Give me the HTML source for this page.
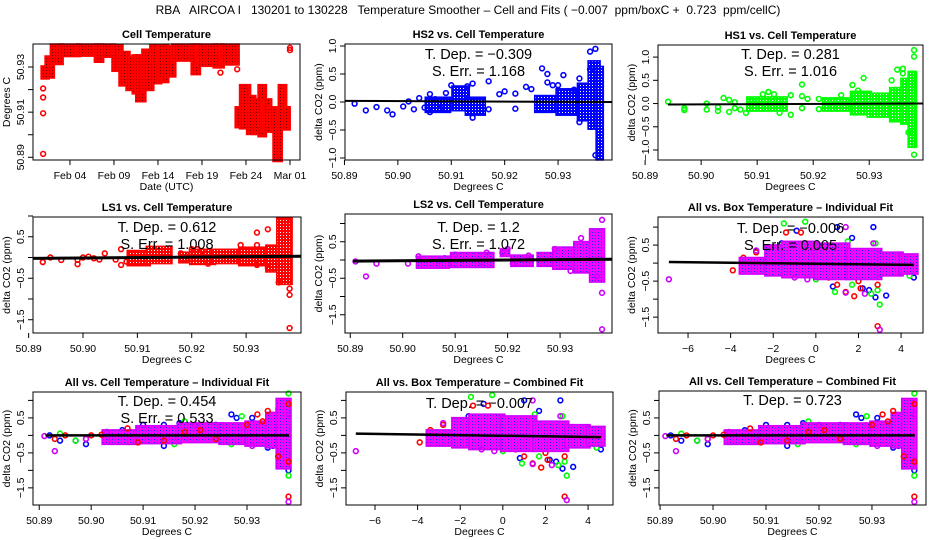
<!DOCTYPE html>
<html><head><meta charset="utf-8"><style>
html,body{margin:0;padding:0;background:#fff;}
svg{display:block;font-family:"Liberation Sans",sans-serif;}
#main-title{white-space:pre;}
</style></head><body>
<svg id="chart" width="936" height="540" viewBox="0 0 936 540" xmlns="http://www.w3.org/2000/svg">
<defs>
<pattern id="pat-red" width="3" height="3" patternUnits="userSpaceOnUse"><rect width="3" height="3" fill="#ff0000"/><rect x="1" y="1" width="1" height="1" fill="#700"/></pattern>
<pattern id="pat-red4" width="3" height="3" patternUnits="userSpaceOnUse"><rect width="3" height="3" fill="#ff0000"/><rect x="1" y="1" width="1" height="1" fill="#fff"/></pattern>
<pattern id="pat-blue" width="3" height="3" patternUnits="userSpaceOnUse"><rect width="3" height="3" fill="#0000ff"/><rect x="1" y="1" width="1" height="1" fill="#fff"/></pattern>
<pattern id="pat-green" width="3" height="3" patternUnits="userSpaceOnUse"><rect width="3" height="3" fill="#00ff00"/><rect x="1" y="1" width="1" height="1" fill="#fff"/></pattern>
<pattern id="pat-purple" width="3" height="3" patternUnits="userSpaceOnUse"><rect width="3" height="3" fill="#ff00ff"/><rect x="1" y="1" width="1" height="1" fill="#2020ff"/><rect x="0" y="2" width="1" height="1" fill="#8040ff"/></pattern>
</defs>
<text id="main-title" x="468" y="14" font-size="12" text-anchor="middle" xml:space="preserve">RBA   AIRCOA I   130201 to 130228   Temperature Smoother – Cell and Fits ( −0.007  ppm/boxC +  0.723  ppm/cellC)</text>
</svg>
<script>
// ---------- Panel 1: cell temperature time series ----------
const p1ColT0=[0.95,1.4,2.0,3.0,5.0,7.0,7.6,9.0,9.8,10.6,11.3,11.7,12.4,13.3,14.2,15.0,15.8,18.0,18.6,20.5,21.3,23.0,23.5,24.3,24.9,25.6,26.1,26.7,27.3,27.9,28.4];
const p1ColT1=[1.4,2.0,3.0,5.0,7.0,7.6,9.0,9.8,10.6,11.3,11.7,12.4,13.3,14.2,15.0,15.8,18.0,18.6,20.5,21.3,23.0,23.5,24.3,24.9,25.6,26.1,26.7,27.3,27.9,28.4,28.8];
const p1ColLo=[50.9256,50.926,50.932,50.9355,50.9357,50.933,50.9352,50.929,50.9225,50.9205,50.919,50.9155,50.9205,50.9235,50.924,50.9265,50.9335,50.9275,50.9312,50.9305,50.9318,50.904,50.9035,50.901,50.901,50.900,50.902,50.905,50.889,50.9035,50.903];
const p1ColHi=[50.9296,50.934,50.9393,50.9393,50.9393,50.9393,50.9393,50.939,50.936,50.934,50.9345,50.9345,50.937,50.939,50.939,50.9385,50.9393,50.9393,50.9393,50.9393,50.9393,50.9115,50.9213,50.9165,50.915,50.9213,50.915,50.9115,50.906,50.9213,50.9115];
const p1PtT=[0.95,0.95,0.95,0.95,12.0,14.0,21.1,23.0,29.0,29.0];
const p1PtV=[50.9205,50.9165,50.9095,50.8915,50.919,50.925,50.9275,50.929,50.9385,50.9375];

// ---------- Panel 2: HS2 (blue) ----------
const p2PtX=[50.8919,50.894,50.896,50.898,50.899,50.901,50.902,50.903,50.904,50.905,50.906,50.906,50.907,50.908,50.909,50.910,50.913,50.914,50.914,50.917,50.917,50.919,50.920,50.922,50.922,50.924,50.925,50.927,50.928,50.928,50.929,50.930,50.931,50.933,50.934,50.934,50.936,50.936,50.937,50.937];
const p2PtY=[-0.03,-0.15,-0.09,-0.15,-0.22,-0.08,0.01,-0.13,0.07,-0.1,0.14,-0.18,0.05,-0.12,0.16,0.3,0.28,0.33,-0.28,0.37,-0.13,0.14,0.19,0.15,-0.12,0.27,0.23,0.6,0.5,0.35,0.3,0.3,0.48,0.22,0.42,-0.36,0.58,0.9,0.95,-0.95];
const p2ColX0=[50.9055,50.9105,50.9130,50.9260,50.9300,50.9340,50.9360,50.9375];
const p2ColX1=[50.9095,50.9130,50.9160,50.9300,50.9340,50.9360,50.9375,50.9381];
const p2ColLo=[-0.15,-0.12,-0.2,-0.15,-0.2,-0.3,-0.45,-1.0];
const p2ColHi=[0.05,0.25,0.05,0.08,0.2,0.3,0.7,0.6];
const p2FitY=[0.02,0.0];

// ---------- Panel 3: HS1 (green) ----------
const p3PtX=[50.8941,50.897,50.897,50.901,50.901,50.903,50.903,50.904,50.905,50.905,50.906,50.906,50.907,50.908,50.909,50.911,50.912,50.913,50.914,50.916,50.916,50.918,50.918,50.918,50.919,50.921,50.921,50.925,50.927,50.929,50.928,50.935,50.936,50.936,50.938,50.938,50.938,50.937,50.934];
const p3PtY=[0.04,-0.1,-0.14,-0.13,0.0,-0.08,-0.16,0.12,0.08,-0.18,0.03,-0.1,-0.13,-0.2,0.08,0.2,0.25,0.2,-0.2,0.18,-0.24,0.41,0.16,-0.1,0.1,0.1,-0.12,0.18,0.4,0.55,0.28,0.73,0.75,0.65,1.15,1.01,-1.1,-0.62,0.5];
const p3ColX0=[50.9085,50.9220,50.9270,50.9300,50.9340,50.9360,50.9373];
const p3ColX1=[50.9150,50.9260,50.9300,50.9340,50.9360,50.9373,50.9381];
const p3ColLo=[-0.12,-0.12,-0.2,-0.25,-0.35,-0.4,-0.9];
const p3ColHi=[0.1,0.08,0.22,0.18,0.3,0.5,0.65];
const p3FitY=[-0.02,0.0];

// ---------- Panel 4: LS1 (red) ----------
const p4PtX=[50.8926,50.894,50.896,50.899,50.899,50.900,50.901,50.902,50.903,50.904,50.906,50.907,50.907,50.908,50.918,50.920,50.921,50.922,50.923,50.929,50.932,50.932,50.932,50.934,50.934,50.936,50.938,50.938,50.938,50.938];
const p4PtY=[-0.11,0.0,-0.06,-0.06,-0.16,0.0,0.02,-0.02,-0.05,0.1,-0.05,0.2,-0.18,-0.1,0.1,0.2,0.2,0.15,-0.15,0.3,0.6,0.3,-0.18,0.68,-0.25,-0.6,-0.75,-0.9,-1.7,0.85];
const p4ColX0=[50.9085,50.9120,50.9180,50.9200,50.9240,50.9290,50.9340,50.9360];
const p4ColX1=[50.9120,50.9160,50.9190,50.9240,50.9290,50.9340,50.9360,50.9381];
const p4ColLo=[-0.15,-0.1,-0.08,-0.12,-0.1,-0.15,-0.3,-0.6];
const p4ColHi=[0.12,0.22,0.08,0.15,0.15,0.2,0.25,0.9];
const p4FitY=[-0.02,0.03];

// ---------- Panel 5: LS2 (purple) ----------
const p5PtX=[50.8910,50.8930,50.8950,50.9010,50.9030,50.9070,50.9080,50.9100,50.9150,50.9160,50.9190,50.9200,50.9210,50.9240,50.9290,50.9320,50.9340,50.9380,50.9380,50.9380,50.9370];
const p5PtY=[-0.04,-0.45,-0.1,-0.1,0.1,-0.02,0.05,0.15,-0.07,0.2,0.2,0.3,-0.1,0.12,0.3,-0.3,0.6,1.1,-0.9,-1.9,-0.45];
const p5ColX0=[50.9030,50.9095,50.9190,50.9210,50.9260,50.9290,50.9330,50.9360];
const p5ColX1=[50.9085,50.9170,50.9200,50.9245,50.9290,50.9330,50.9360,50.9381];
const p5ColLo=[-0.17,-0.15,0.15,-0.12,-0.12,-0.2,-0.3,-0.55];
const p5ColHi=[0.05,0.15,0.25,0.08,0.15,0.3,0.45,0.8];
const p5FitY=[-0.03,0.02];

// ---------- Panels 6 & 8: all vs box temperature ----------
const boxColX0=[-3.5,-2.3,-1.5,0.0,1.5,3.0,4.0];
const boxColX1=[-2.3,-1.5,0.0,1.5,3.0,4.0,4.7];
const boxColLo=[-0.25,-0.3,-0.35,-0.4,-0.4,-0.3,-0.25];
const boxColHi=[0.1,0.45,0.55,0.5,0.35,0.25,0.2];
const boxRedX=[-3.9,-3.4,-1.4,-0.7,0.6,1.0,1.4,1.8,2.1,2.9,2.9,3.6,4.2,1.5,-2.8,-1.0,0.8,2.0];
const boxRedY=[-0.2,0.15,0.85,0.85,-0.4,-0.6,-0.8,-0.92,-0.7,-0.6,-1.75,-0.1,-0.2,0.2,0.3,-0.3,0.4,-0.5];
const boxBlueX=[-0.9,1.0,2.7,1.7,0.8,2.2,2.5,2.8,3.3,4.6,-1.6,-3.2,0.2,2.4,3.8];
const boxBlueY=[0.9,1.0,1.0,0.7,-0.65,-0.7,-0.75,-0.95,-0.9,-0.4,0.55,-0.1,0.3,0.3,0.0];
const boxGreenX=[-1.5,-0.5,0.9,1.5,2.8,3.0,2.9,1.7,0.0,-2.2,4.4,-3.4,2.6];
const boxGreenY=[1.1,1.15,-0.8,0.6,0.55,-1.15,-0.75,-0.6,-0.45,0.2,-0.35,-0.1,-0.85];
const boxMagX=[-6.9,1.4,1.4,2.3,3.0,2.7,-2.8,-1.0,-0.4];
const boxMagY=[-0.45,1.0,-0.82,-0.85,-1.85,0.55,0.35,-0.4,-0.45];
const p6FitY=[0.03,-0.05];
const p8FitY=[0.05,-0.05];

// ---------- Panels 7 & 9: all vs cell temperature ----------
const cellColX0=[50.9025,50.9090,50.9170,50.9250,50.9300,50.9340,50.9360];
const cellColX1=[50.9090,50.9170,50.9250,50.9300,50.9340,50.9360,50.9381];
const cellColLo=[-0.2,-0.18,-0.15,-0.2,-0.25,-0.3,-0.9];
const cellColHi=[0.1,0.22,0.3,0.3,0.35,0.6,1.0];
const cellRedX=[50.8930,50.8950,50.8990,50.9000,50.9020,50.9070,50.9090,50.9140,50.9180,50.9210,50.9240,50.9300,50.9320,50.9340,50.9360,50.9380,50.9380,50.9380,50.9330];
const cellRedY=[-0.1,0.0,-0.1,0.0,0.02,0.2,-0.2,-0.15,0.1,0.15,-0.1,0.3,0.6,0.7,-0.6,-0.75,-1.75,0.9,0.4];
const cellBlueX=[50.8920,50.8940,50.8970,50.8990,50.9060,50.9100,50.9140,50.9140,50.9170,50.9170,50.9240,50.9270,50.9280,50.9310,50.9340,50.9370,50.9380,50.9350];
const cellBlueY=[0.0,-0.15,-0.15,-0.25,0.15,0.3,0.3,-0.3,0.35,-0.15,0.3,0.6,0.5,0.5,-0.35,0.9,-1.0,-0.3];
const cellGreenX=[50.8940,50.8970,50.9050,50.9120,50.9160,50.9180,50.9200,50.9250,50.9270,50.9290,50.9350,50.9360,50.9380,50.9380,50.9330];
const cellGreenY=[0.05,-0.15,-0.1,0.2,-0.25,0.4,0.1,0.2,-0.25,0.55,0.5,0.75,1.2,-1.15,-0.2];
const cellMagX=[50.8910,50.8930,50.8990,50.9030,50.9200,50.9310,50.9380,50.9380];
const cellMagY=[-0.02,-0.45,-0.1,0.1,0.3,-0.3,-1.9,0.6];
const p7FitY=[0.0,0.0];
const p9FitY=[0.0,0.0];

const NS='http://www.w3.org/2000/svg';
const svg=document.getElementById('chart');
function el(tag,attrs,parent){const e=document.createElementNS(NS,tag);for(const k in attrs)e.setAttribute(k,attrs[k]);(parent||svg).appendChild(e);return e;}

const cellTicks=[50.89,50.90,50.91,50.92,50.93];
const cellTickLbl=['50.89','50.90','50.91','50.92','50.93'];
const boxTicks=[-6,-4,-2,0,2,4];
const boxTickLbl=['−6','−4','−2','0','2','4'];
const yTicksA=[-1,-0.5,0,0.5,1];
const yLblA=['−1.0','−0.5','0.0','0.5','1.0'];
const yTicksB=[-1.5,-1,-0.5,0,0.5,1];
const yLblB=['−1.5','','−0.5','','0.5',''];

const panels=[
 {name:'cell-temperature',box:[33,44,300,160],xd:[-0.2,30.14],yd:[50.8888,50.9402],title:'Cell Temperature',xt:[4,9,14,19,24,29],xl:['Feb 04','Feb 09','Feb 14','Feb 19','Feb 24','Mar 01'],yt:[50.89,50.90,50.91,50.92,50.93],yl:['50.89','','50.91','','50.93'],xtitle:'Date (UTC)',ytitle:'Degrees C'},
 {name:'hs2-vs-cell',box:[345,44,612,160],xd:[50.8901,50.9401],yd:[-1.036,1.036],title:'HS2 vs. Cell Temperature',xt:cellTicks,xl:cellTickLbl,yt:yTicksA,yl:yLblA,dep:'T. Dep. =  −0.309',err:'S. Err. =  1.168'},
 {name:'hs1-vs-cell',box:[658,45,923,160],xd:[50.8923,50.9396],yd:[-1.215,1.26],title:'HS1 vs. Cell Temperature',xt:cellTicks,xl:cellTickLbl,yt:yTicksA,yl:yLblA,dep:'T. Dep. =  0.281',err:'S. Err. =  1.016'},
 {name:'ls1-vs-cell',box:[33,217,301,333],xd:[50.8908,50.9401],yd:[-1.82,0.976],title:'LS1 vs. Cell Temperature',xt:cellTicks,xl:cellTickLbl,yt:yTicksB,yl:yLblB,dep:'T. Dep. =  0.612',err:'S. Err. =  1.008'},
 {name:'ls2-vs-cell',box:[345,214,612,333],xd:[50.8890,50.9399],yd:[-2.0,1.26],title:'LS2 vs. Cell Temperature',xt:cellTicks,xl:cellTickLbl,yt:yTicksB,yl:yLblB,dep:'T. Dep. =  1.2',err:'S. Err. =  1.072'},
 {name:'all-vs-box-individual',box:[658,217,923,333],xd:[-7.41,5.03],yd:[-1.94,1.28],title:'All vs. Box Temperature – Individual Fit',xt:boxTicks,xl:boxTickLbl,yt:yTicksB,yl:yLblB,dep:'T. Dep. =  −0.006',err:'S. Err. =  0.005'},
 {name:'all-vs-cell-individual',box:[33,392,301,505],xd:[50.8888,50.9404],yd:[-1.99,1.24],title:'All vs. Cell Temperature – Individual Fit',xt:cellTicks,xl:cellTickLbl,yt:yTicksB,yl:yLblB,dep:'T. Dep. =  0.454',err:'S. Err. =  0.533'},
 {name:'all-vs-box-combined',box:[346,392,613,505],xd:[-7.36,5.17],yd:[-1.99,1.24],title:'All vs. Box Temperature – Combined Fit',xt:boxTicks,xl:boxTickLbl,yt:yTicksB,yl:yLblB,dep:'T. Dep. =  −0.007'},
 {name:'all-vs-cell-combined',box:[659,391,926,505],xd:[50.8898,50.9402],yd:[-1.99,1.27],title:'All vs. Cell Temperature – Combined Fit',xt:cellTicks,xl:cellTickLbl,yt:yTicksB,yl:yLblB,dep:'T. Dep. =  0.723'}
];

function setup(p){
 const [l,t,r,b]=p.box;
 const g=el('g',{});
 
 
 const sx=v=>l+(v-p.xd[0])/(p.xd[1]-p.xd[0])*(r-l);
 const sy=v=>b-(v-p.yd[0])/(p.yd[1]-p.yd[0])*(b-t);
 const cx=(l+r)/2;
 const tt=el('text',{x:cx,y:t-6,'font-size':11,'font-weight':'bold','text-anchor':'middle'},g);tt.textContent=p.title;
 
 
 const plot=el('g',{},g);
 const ax=el('g',{stroke:'#000','stroke-width':1},g);
 
 
 el('rect',{x:l,y:t,width:r-l,height:b-t,fill:'none'},ax);
 p.xt.forEach((v,i)=>{const x=sx(v);el('line',{x1:x,x2:x,y1:b,y2:b+5},ax);
  const tx=el('text',{x:x,y:b+19,'font-size':10.5,'text-anchor':'middle',stroke:'none'},g);tx.textContent=p.xl[i];
  
  });
 p.yt.forEach((v,i)=>{const y=sy(v);el('line',{x1:l-5,x2:l,y1:y,y2:y},ax);
  if(p.yl[i]){const ty=el('text',{x:0,y:0,'font-size':10.5,'text-anchor':'middle',transform:`translate(${l-9},${y}) rotate(-90)`},g);ty.textContent=p.yl[i];
  
  }});
 const xt=el('text',{x:cx,y:b+30,'font-size':10.5,'text-anchor':'middle'},g);xt.textContent=p.xtitle||'Degrees C';
 
 
 const yt=el('text',{x:0,y:0,'font-size':10.5,'text-anchor':'middle',transform:`translate(${l-23},${(t+b)/2}) rotate(-90)`},g);yt.textContent=p.ytitle||'delta CO2 (ppm)';
 
 
 return {sx,sy,plot,g,l,r,t,b,cx,p};
}
function bands(P,x0,x1,lo,hi,pat,col){
 for(let i=0;i<x0.length;i++){
  const X0=P.sx(x0[i]),X1=P.sx(x1[i]),Y0=P.sy(hi[i]),Y1=P.sy(lo[i]);
  const rc=el('rect',{x:X0-2,y:Y0-2,width:X1-X0+4,height:Y1-Y0+4,fill:`url(#${pat})`,stroke:col,'stroke-width':1.5},P.plot);
  
  
 }
}
function pts(P,xs,ys,col){
 for(let i=0;i<xs.length;i++){
  const c=el('circle',{cx:P.sx(xs[i]),cy:P.sy(ys[i]),r:2.4,fill:'none',stroke:col,'stroke-width':1.6},P.plot);
  
  
 }
}
function fit(P,xa,xb,fy,w){
 const ln=el('line',{x1:P.sx(xa),x2:P.sx(xb),y1:P.sy(fy[0]),y2:P.sy(fy[1]),stroke:'#000','stroke-width':w},P.plot);
 
 
}
function labels(P,off){
 const p=P.p;
 if(p.dep){const a=el('text',{x:P.cx,y:P.t+off,'font-size':14.5,'text-anchor':'middle','xml:space':'preserve'},P.g);a.textContent=p.dep;
  
  }
 if(p.err){const e=el('text',{x:P.cx,y:P.t+off+17,'font-size':14.5,'text-anchor':'middle'},P.g);e.textContent=p.err;
  
  }
}

// Panel 1
let P=setup(panels[0]);
bands(P,p1ColT0,p1ColT1,p1ColLo,p1ColHi,'pat-red','#ff0000');
pts(P,p1PtT,p1PtV,'#ff0000');
// Panel 2
P=setup(panels[1]);
bands(P,p2ColX0,p2ColX1,p2ColLo,p2ColHi,'pat-blue','#0000ff');
pts(P,p2PtX,p2PtY,'#0000ff');
fit(P,50.8901,50.9401,p2FitY,2);labels(P,15);
// Panel 3
P=setup(panels[2]);
bands(P,p3ColX0,p3ColX1,p3ColLo,p3ColHi,'pat-green','#00ff00');
pts(P,p3PtX,p3PtY,'#00ff00');
fit(P,50.8941,50.9396,p3FitY,2);labels(P,14);
// Panel 4
P=setup(panels[3]);
bands(P,p4ColX0,p4ColX1,p4ColLo,p4ColHi,'pat-red4','#ff0000');
pts(P,p4PtX,p4PtY,'#ff0000');
fit(P,50.8908,50.9401,p4FitY,3);labels(P,15);
// Panel 5
P=setup(panels[4]);
bands(P,p5ColX0,p5ColX1,p5ColLo,p5ColHi,'pat-purple','#d000ff');
pts(P,p5PtX,p5PtY,'#d000ff');
fit(P,50.8905,50.9399,p5FitY,3);labels(P,18);
// Panel 6 & 8
[[5,p6FitY],[7,p8FitY]].forEach(([k,fy])=>{
 const Q=setup(panels[k]);
 pts(Q,boxBlueX,boxBlueY,'#0000ff');
 pts(Q,boxGreenX,boxGreenY,'#00ff00');
 pts(Q,boxRedX,boxRedY,'#ff0000');
 bands(Q,boxColX0,boxColX1,boxColLo,boxColHi,'pat-purple','#d000ff');
 pts(Q,boxMagX,boxMagY,'#d000ff');
 fit(Q,-6.9,4.6,fy,2.5);labels(Q,16);
});
// Panel 7 & 9
[[6,p7FitY],[8,p9FitY]].forEach(([k,fy])=>{
 const Q=setup(panels[k]);
 pts(Q,cellBlueX,cellBlueY,'#0000ff');
 pts(Q,cellGreenX,cellGreenY,'#00ff00');
 bands(Q,cellColX0,cellColX1,cellColLo,cellColHi,'pat-purple','#d000ff');
 pts(Q,cellRedX,cellRedY,'#ff0000');
 pts(Q,cellMagX,cellMagY,'#d000ff');
 fit(Q,50.8912,50.9381,fy,2.5);labels(Q,14);
});
</script>
</body></html>
